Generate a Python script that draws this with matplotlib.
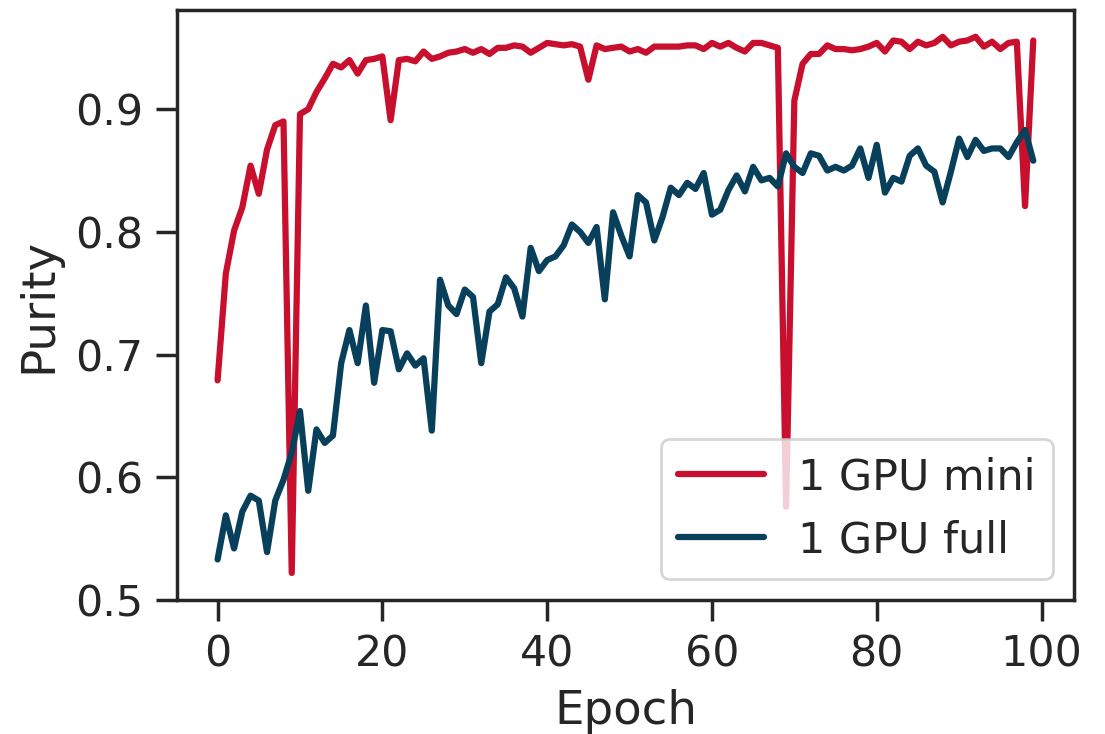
import numpy as np
import seaborn as sns
from matplotlib import pyplot as plt

epochs = np.arange(100)

# purity per epoch
mini = [0.679, 0.766, 0.801, 0.820, 0.854, 0.831, 0.867, 0.887, 0.890, 0.522,
        0.896, 0.900, 0.914, 0.925, 0.937, 0.934, 0.940, 0.929, 0.940, 0.941,
        0.943, 0.891, 0.940, 0.941, 0.939, 0.947, 0.941, 0.943, 0.946, 0.947,
        0.949, 0.946, 0.949, 0.945, 0.950, 0.950, 0.952, 0.951, 0.946, 0.950,
        0.954, 0.953, 0.952, 0.953, 0.951, 0.924, 0.952, 0.949, 0.950, 0.951,
        0.947, 0.949, 0.946, 0.951, 0.951, 0.951, 0.951, 0.952, 0.952, 0.949,
        0.954, 0.951, 0.954, 0.950, 0.947, 0.954, 0.954, 0.952, 0.950, 0.576,
        0.907, 0.937, 0.945, 0.945, 0.952, 0.949, 0.949, 0.948, 0.949, 0.951,
        0.954, 0.947, 0.956, 0.955, 0.949, 0.955, 0.952, 0.954, 0.959, 0.952,
        0.955, 0.956, 0.959, 0.951, 0.955, 0.949, 0.954, 0.955, 0.821, 0.956]

full = [0.533, 0.569, 0.542, 0.572, 0.585, 0.581, 0.539, 0.581, 0.598, 0.620,
        0.654, 0.589, 0.639, 0.628, 0.634, 0.693, 0.720, 0.693, 0.740, 0.677,
        0.720, 0.719, 0.688, 0.701, 0.691, 0.697, 0.638, 0.761, 0.740, 0.733,
        0.753, 0.747, 0.693, 0.735, 0.741, 0.763, 0.754, 0.731, 0.787, 0.768,
        0.777, 0.780, 0.789, 0.806, 0.800, 0.791, 0.804, 0.745, 0.816, 0.797,
        0.780, 0.830, 0.824, 0.793, 0.812, 0.836, 0.830, 0.840, 0.835, 0.848,
        0.814, 0.818, 0.834, 0.846, 0.833, 0.853, 0.842, 0.844, 0.837, 0.864,
        0.853, 0.848, 0.864, 0.862, 0.850, 0.853, 0.850, 0.854, 0.868, 0.844,
        0.871, 0.832, 0.844, 0.841, 0.862, 0.868, 0.854, 0.849, 0.824, 0.849,
        0.876, 0.861, 0.875, 0.866, 0.868, 0.868, 0.861, 0.873, 0.883, 0.858]

labels = ["1 GPU mini", "1 GPU full"]
colors = ["#C8102E", "#08405C"]

sns.set_theme(style="ticks", context="poster", font_scale=1.4)
plt.rcParams['font.family'] = ['DejaVu Sans']
plt.rcParams['xtick.major.size'] = 15
plt.rcParams['ytick.major.size'] = 15
plt.rcParams['xtick.major.pad'] = 9
plt.rcParams['ytick.major.pad'] = 9

fig = plt.figure(figsize=(11.05, 7.34), dpi=100)
plt.subplots_adjust(left=0.160, right=0.972, bottom=0.1826, top=0.9864)

plt.plot(epochs, mini, color=colors[0], lw=4.5, label=labels[0])
plt.plot(epochs, full, color=colors[1], lw=4.5, label=labels[1])

plt.xlabel("Epoch", labelpad=10)
plt.ylabel("Purity", labelpad=10)
plt.ylim(bottom=0.5)
plt.xticks(np.arange(0, 101, 20))
plt.yticks(np.arange(0.5, 0.91, 0.1))
plt.legend(loc="lower right")

plt.savefig("out.png", dpi=100)
